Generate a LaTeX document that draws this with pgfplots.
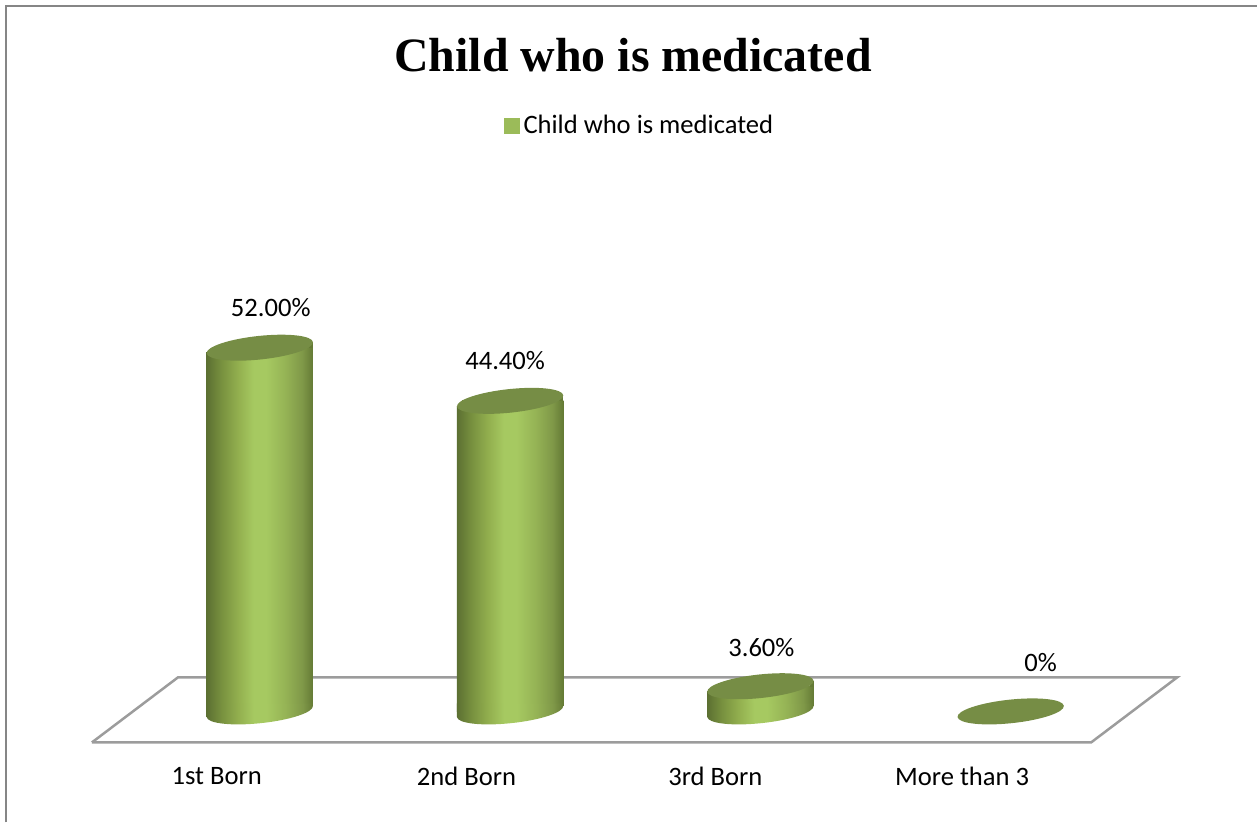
\documentclass[border=0pt]{standalone}
\usepackage{pgfplots}
\usepackage{pgfplotstable}
\usepackage{fontspec}
\pgfplotsset{compat=1.18}
\setmainfont{Carlito}
\newfontfamily\titlefont{Liberation Serif}

\definecolor{topgreen}{HTML}{768D45}
\definecolor{keygreen}{HTML}{9BBB59}
\definecolor{framegray}{HTML}{868686}
\definecolor{floorgray}{HTML}{9C9C9C}
\definecolor{walla}{HTML}{5C7032}
\definecolor{wallb}{HTML}{78913F}
\definecolor{wallc}{HTML}{93B04F}
\definecolor{walld}{HTML}{A6C961}
\definecolor{walle}{HTML}{95B355}
\definecolor{wallf}{HTML}{7F9848}
\definecolor{wallg}{HTML}{647A35}

% Horizontal gradient of the cylinder wall
\pgfdeclarehorizontalshading{cylwall}{100bp}{%
  color(0bp)=(walla);
  color(25bp)=(walla);
  color(32bp)=(wallb);
  color(40bp)=(wallc);
  color(47bp)=(walld);
  color(53bp)=(walld);
  color(62bp)=(walle);
  color(70bp)=(wallf);
  color(75bp)=(wallg);
  color(100bp)=(wallg)}

% Tilted lid
\pgfdeclareplotmark{cyltop}{%
  \pgfsetfillcolor{topgreen}%
  \pgfpathellipse{\pgfpointorigin}{\pgfpoint{26.6pt}{2.8pt}}{\pgfpoint{-0.62pt}{5.87pt}}%
  \pgfusepathqfill}

% Upper end of a wall: trims the bar's left corner, extends its right edge up to the lid
\pgfdeclareplotmark{cylshoulder}{%
  \pgfsetfillcolor{white}%
  \pgfpathrectangle{\pgfpoint{-27.5pt}{-2.4pt}}{\pgfpoint{3.4pt}{3.4pt}}%
  \pgfusepathqfill
  \pgfsetfillcolor{wallg}%
  \pgfpathrectangle{\pgfpoint{24.6pt}{-0.2pt}}{\pgfpoint{2pt}{3pt}}%
  \pgfusepathqfill}

% Lower rim of the wall: half a tilted ellipse with a strip that reaches into the bar
\pgfdeclareplotmark{cylbase}{%
  \pgfsetfillcolor{white}%
  \pgfpathrectangle{\pgfpoint{23.5pt}{-2.5pt}}{\pgfpoint{4pt}{5.3pt}}%
  \pgfusepathqfill
  \begingroup
    \pgftransformrotate{6}%
    \pgfpathmoveto{\pgfpoint{-26.75pt}{0pt}}%
    \pgfpatharc{180}{360}{26.75pt and 5.9pt}%
  \endgroup
  \pgfpathlineto{\pgfpoint{26.6pt}{4pt}}%
  \pgfpathlineto{\pgfpoint{-26.6pt}{4pt}}%
  \pgfpathclose
  \pgfshadepath{cylwall}{0}%
  \pgfusepath{discard}}

\pgfplotstableread{
x v label dx dy
0 52.0 52.00\% 5.5 20.2
1 44.4 44.40\% -2.5 20.2
2 3.6 3.60\% 0.5 19.2
3 0 0\% 15 24.7
}\medicated

\begin{document}
\begin{tikzpicture}
% Frame, floor and title, in a coordinate system of 1258 by 823 units
\begin{axis}[
  name=frame, at={(0,0)}, anchor=south west,
  scale only axis, width=629pt, height=411.5pt,
  xmin=0, xmax=1258, ymin=0, ymax=823, y dir=reverse,
  hide axis, clip=false]
\addplot[framegray, line width=1pt, forget plot] coordinates {(6.5,823) (6.5,6.5) (1258,6.5)};
\addplot[floorgray, line width=1.25pt, line join=miter, forget plot] coordinates
  {(92,743) (1092,743) (1178,678) (178,678) (92,743)};
\node[font=\titlefont\bfseries\fontsize{23.95}{30}\selectfont, anchor=center] at (axis cs:633.5,55) {Child who is medicated};
\end{axis}

% Cylinders: one category unit is 250.5 units across, one percent is 7 units high
\begin{axis}[
  at={(0,0)}, anchor=south west,
  scale only axis, width=629pt, height=411.5pt,
  xmin=-1.03792, xmax=3.98403,
  ymin=-15.86, ymax=101.71,
  axis line style={draw=none}, tick style={draw=none},
  ytick=\empty,
  xtick={-0.172,0.826,1.82,2.806},
  xticklabels={1st Born,2nd Born,3rd Born,More than 3},
  xticklabel style={anchor=center, yshift=23pt, font=\fontsize{13.3}{15}\selectfont},
  legend style={at={(0.5095,0.8465)}, anchor=center, draw=none, fill=none,
    font=\fontsize{13.3}{15}\selectfont, inner sep=0pt},
  clip=false]
\addplot[only marks, mark=cylbase, forget plot, restrict x to domain=0:2]
  table[x=x, y expr=0] {\medicated};
% One plot per bar, so that each wall carries the whole gradient
\pgfplotsinvokeforeach{0,1,2}{
  \addplot[ybar, bar width=53.2pt, bar shift=0pt, draw=none, shading=cylwall,
    restrict x to domain=#1:#1, forget plot]
    table[x=x, y=v] {\medicated};
}
\addlegendimage{legend image code/.code={\fill[keygreen] (-1.5pt,-3.75pt) rectangle (6pt,3.75pt);}}
\addlegendentry{Child who is medicated}
\addplot[only marks, mark=cylshoulder, forget plot, restrict x to domain=0:2]
  table[x=x, y=v] {\medicated};
\addplot[only marks, mark=cyltop, forget plot] table[x=x, y=v] {\medicated};
% Value labels, each with its own offset from the lid
\addplot[only marks, mark=none, forget plot,
  visualization depends on={\thisrow{dx} \as \labeldx},
  visualization depends on={\thisrow{dy} \as \labeldy},
  point meta=explicit symbolic,
  nodes near coords,
  every node near coord/.append style={anchor=center, inner sep=0pt,
    font=\fontsize{13.3}{15}\selectfont,
    xshift=\labeldx pt, yshift=\labeldy pt}]
  table[x=x, y=v, meta=label] {\medicated};
\end{axis}
\end{tikzpicture}
\end{document}
